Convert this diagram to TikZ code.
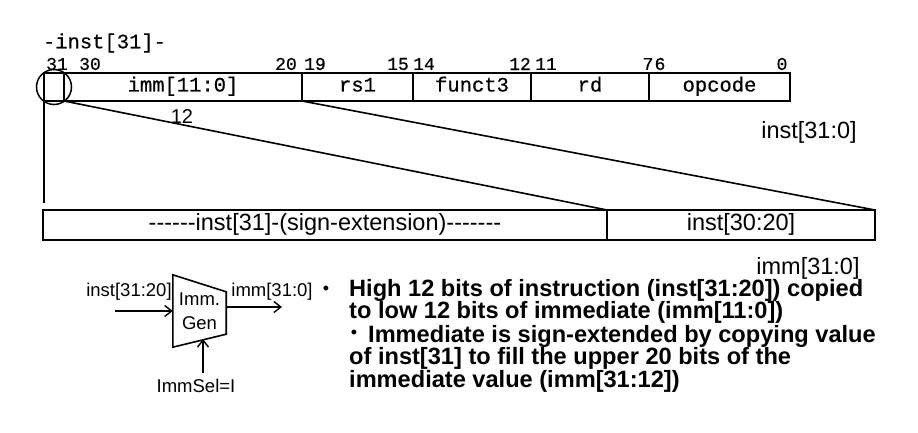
\documentclass[tikz,border=0pt]{standalone}
\usepackage{fontspec}
\setmainfont{Liberation Sans}[Ligatures=TeXOff]
\setmonofont{Liberation Mono}[Ligatures=TeXOff, FakeBold=0.5]
\usetikzlibrary{positioning,arrows.meta}

\begin{document}
\begin{tikzpicture}[x=1pt, y=-1pt,
    field/.style={rectangle, draw, line width=1.8pt, outer sep=0pt, inner sep=0pt, minimum height=28pt, text height=13pt, text depth=4pt, font=\ttfamily\fontsize{20.5}{20.5}\selectfont},
    extfield/.style={rectangle, draw, line width=1.8pt, outer sep=0pt, inner sep=0pt, minimum height=30pt, text height=16pt, text depth=5pt, font=\fontsize{23.5}{23.5}\selectfont},
    bitnum/.style={font=\ttfamily\fontsize{18}{18}\selectfont, inner sep=0pt},
    sizelabel/.style={font=\fontsize{23.5}{23.5}\selectfont, inner sep=0pt},
    gentext/.style={font=\fontsize{18.5}{24}\selectfont, inner sep=0pt},
    line/.style={draw, line width=1.6pt},
    arrow/.style={draw, line width=1.4pt, -{Straight Barb[length=7pt, width=11pt, line width=1.4pt]}},
    dot/.style={font=\fontsize{18}{18}\selectfont, inner sep=0pt, anchor=base},
    bullettext/.style={font=\bfseries\fontsize{23.6}{22.4}\selectfont, align=left, inner sep=0pt, anchor=north west}
]
    \path[fill=white] (0,0) rectangle (918,433);
    \useasboundingbox (0,0) rectangle (918,433);

    % Instruction fields
    \node [field, minimum width=20pt, anchor=north west] (b31) at (44,73) {};
    \node [field, minimum width=238pt, right=0pt of b31] (imm) {imm[11:0]};
    \node [field, minimum width=111pt, right=0pt of imm] (rs1) {rs1};
    \node [field, minimum width=118pt, right=0pt of rs1] (funct3) {funct3};
    \node [field, minimum width=118pt, right=0pt of funct3] (rd) {rd};
    \node [field, minimum width=141pt, right=0pt of rd] (opcode) {opcode};
    \node [circle, draw, line width=1.5pt, minimum size=35pt, inner sep=0pt] (ring) at (b31.center) {};

    % Bit positions
    \node [font=\ttfamily\fontsize{20.5}{20.5}\selectfont, inner sep=0pt] (signbit) at (104.5,43) {-inst[31]-};
    \node [bitnum] (n31) at (57,64) {31};
    \node [bitnum] (n30) at (90,64) {30};
    \node [bitnum] (n20) at (286,64) {20};
    \node [bitnum] (n19) at (315,64) {19};
    \node [bitnum] (n15) at (398,64) {15};
    \node [bitnum] (n14) at (424,64) {14};
    \node [bitnum] (n12) at (520,64) {12};
    \node [bitnum] (n11) at (546,64) {11};
    \node [bitnum] (n7) at (648,64) {7};
    \node [bitnum] (n6) at (660,64) {6};
    \node [bitnum] (n0) at (782,64) {0};
    \node [sizelabel] (install) at (809,132) {inst[31:0]};

    % Immediate fields
    \node [extfield, minimum width=564pt, anchor=north west] (sign) at (43,210) {------inst[31]-(sign-extension)-------};
    \node [extfield, minimum width=268pt, right=0pt of sign] (low) {inst[30:20]};
    \node [sizelabel] (immall) at (808,268) {imm[31:0]};

    % Connections
    \coordinate (drop) at (44,203);
    \path [line] (b31.south west) -- (drop);
    \path [line] (b31.south east) -- (sign.north east);
    \path [line] (imm.south east) -- (low.north east);
    \node [font=\fontsize{20}{20}\selectfont, inner sep=0pt] (width12) at (182,117) {12};

    % Immediate generator
    \node [gentext, minimum width=53pt, minimum height=72pt, align=center] (immgen) at (199.5,311) {Imm.\\Gen};
    \draw [line width=1.6pt] (immgen.north west) -- ([yshift=-17pt]immgen.north east) -- ([yshift=13pt]immgen.south east) -- (immgen.south west) -- cycle;
    \coordinate (genin) at (115,311);
    \coordinate (genout) at (282,307);
    \coordinate (selend) at (203,339);
    \node [gentext] (inlabel) at (129,292) {inst[31:20]};
    \node [gentext] (outlabel) at (272,292) {imm[31:0]};
    \node [gentext] (immsel) at (196,386) {ImmSel=I};
    \path [arrow] (genin) -- (immgen.west);
    \path [arrow] (genout -| immgen.east) -- (genout);
    \path [arrow] ([yshift=6pt]immsel.north -| selend) -- (selend);

    % Notes
    \node [dot] (dot1) at (326,294) {\textbullet};
    \node [dot] (dot2) at (354,338) {\textbullet};
    \node [bullettext] (point1) at (349,279) {High 12 bits of instruction (inst[31:20]) copied\\to low 12 bits of immediate (imm[11:0])};
    \node [bullettext] (point2) at (349,325) {\hspace*{19pt}Immediate is sign-extended by copying value\\of inst[31] to fill the upper 20 bits of the\\immediate value (imm[31:12])};

\end{tikzpicture}
\end{document}
